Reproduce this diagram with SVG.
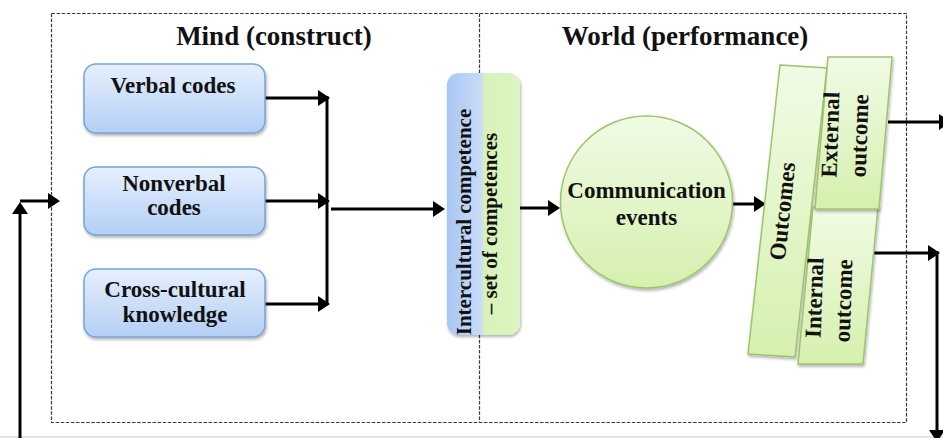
<svg xmlns="http://www.w3.org/2000/svg" width="943" height="438" viewBox="0 0 943 438">
  <style>
    .frame { fill: none; stroke: #3a3a3a; stroke-width: 1.2; stroke-dasharray: 3.5 1.6; }
    .title { font-family: "Liberation Serif", "Times New Roman", serif; font-weight: bold; font-size: 27px; fill: #111; text-anchor: middle; }
    .lbl { font-family: "Liberation Serif", "Times New Roman", serif; font-weight: bold; font-size: 23px; fill: #111; text-anchor: middle; }
    .lbl-sm { font-family: "Liberation Serif", "Times New Roman", serif; font-weight: bold; font-size: 21px; fill: #111; text-anchor: middle; }
    .blue-box { fill: url(#blueFill); stroke: #76a3d8; stroke-width: 1.5; filter: url(#shadow); }
    .green { fill: url(#greenFill); stroke: #9dc46b; stroke-width: 1.5; filter: url(#shadow); }
    .wire { fill: none; stroke: #000; stroke-width: 3; }
    .arrow { fill: none; stroke: #000; stroke-width: 3; marker-end: url(#head); }
  </style>
  <defs>
    <linearGradient id="blueFill" x1="0" y1="0" x2="0" y2="1">
      <stop offset="0" stop-color="#e6f0fd"/>
      <stop offset="1" stop-color="#b3cff5"/>
    </linearGradient>
    <linearGradient id="greenFill" x1="0" y1="0" x2="0" y2="1">
      <stop offset="0" stop-color="#f1fbe5"/>
      <stop offset="1" stop-color="#d5f0ae"/>
    </linearGradient>
    <linearGradient id="blendFill" x1="0" y1="0" x2="1" y2="0">
      <stop offset="0" stop-color="#a8c7f3"/>
      <stop offset="0.46" stop-color="#c8dbf8"/>
      <stop offset="0.52" stop-color="#d7f2b9"/>
      <stop offset="1" stop-color="#ddf5c2"/>
    </linearGradient>
    <filter id="shadow" x="-10%" y="-10%" width="130%" height="130%">
      <feDropShadow dx="1" dy="2" stdDeviation="1.5" flood-color="#000" flood-opacity="0.3"/>
    </filter>
    <marker id="head" viewBox="0 0 12 16" markerWidth="12" markerHeight="16" refX="8" refY="8" orient="auto" markerUnits="userSpaceOnUse">
      <path d="M0,0 L12,8 L0,16 z" fill="#000"/>
    </marker>
  </defs>

  <!-- page edge -->
  <line x1="0" y1="437" x2="943" y2="437" stroke="#dadada" stroke-width="1.5"/>

  <!-- dashed frame split into the two domains -->
  <g id="frame">
    <rect class="frame" x="51.5" y="13.5" width="855" height="409"/>
    <line class="frame" x1="479.5" y1="13.5" x2="479.5" y2="422.5"/>
  </g>

  <g id="title-mind">
    <text class="title" x="274" y="45">Mind (construct)</text>
  </g>
  <g id="title-world">
    <text class="title" x="685" y="45">World (performance)</text>
  </g>

  <!-- connectors -->
  <g id="connectors">
    <path class="arrow" d="M265,98 H326"/>
    <path class="arrow" d="M262,201 H326"/>
    <path class="arrow" d="M265,304 H326"/>
    <path class="wire" d="M327,96 V305"/>
    <path class="arrow" d="M331,209 H441"/>
    <path class="arrow" d="M520,208 H556"/>
    <path class="arrow" d="M733,204 H762"/>
    <path class="arrow" d="M888,122 H947"/>
    <path class="arrow" d="M873,253 H936"/>
    <path class="arrow" d="M937,251 V438"/>
    <path class="arrow" d="M20,440 V206"/>
    <path class="arrow" d="M20,201 H56"/>
  </g>

  <g id="verbal-codes">
    <rect class="blue-box" x="84" y="64" width="181" height="69" rx="12"/>
    <text class="lbl" x="173" y="93">Verbal codes</text>
  </g>

  <g id="nonverbal-codes">
    <rect class="blue-box" x="84" y="167" width="181" height="68" rx="12"/>
    <text class="lbl" x="174" y="191">Nonverbal</text>
    <text class="lbl" x="174" y="215">codes</text>
  </g>

  <g id="cross-cultural-knowledge">
    <rect class="blue-box" x="84" y="269" width="181" height="68" rx="12"/>
    <text class="lbl" x="175" y="297">Cross-cultural</text>
    <text class="lbl" x="175" y="322">knowledge</text>
  </g>

  <g id="intercultural-competence">
    <rect x="447" y="73" width="73" height="262" rx="12" fill="url(#blendFill)" filter="url(#shadow)"/>
    <text class="lbl-sm" transform="translate(471,222) rotate(-90)">Intercultural competence</text>
    <text class="lbl-sm" transform="translate(497,223.5) rotate(-90)">– set of competences</text>
  </g>

  <g id="communication-events">
    <circle class="green" cx="646.5" cy="202" r="86"/>
    <text class="lbl" x="646.5" y="198">Communication</text>
    <text class="lbl" x="646.5" y="225">events</text>
  </g>

  <g id="outcomes">
    <polygon class="green" points="780,65 827,68 795,357 748,354"/>
    <text class="lbl" transform="translate(790,212) rotate(-84)">Outcomes</text>
  </g>

  <g id="internal-outcome">
    <polygon class="green" points="813,207 878,207 863,364 798,364"/>
    <text class="lbl" transform="translate(822,298) rotate(-88)">Internal</text>
    <text class="lbl" transform="translate(851,301) rotate(-88)">outcome</text>
  </g>

  <g id="external-outcome">
    <polygon class="green" points="828,57 892,57 879,209 815,209"/>
    <text class="lbl" transform="translate(838,135) rotate(-88)">External</text>
    <text class="lbl" transform="translate(867,136) rotate(-88)">outcome</text>
  </g>
</svg>
